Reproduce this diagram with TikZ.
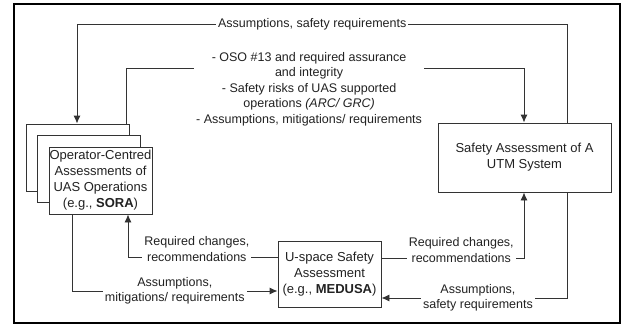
\documentclass[tikz,border=0pt]{standalone}
\usepackage{fontspec}
\setmainfont{Liberation Sans}
\usetikzlibrary{arrows.meta,positioning,calc}
\definecolor{inkgray}{HTML}{333333}
\definecolor{textgray}{HTML}{222222}
\tikzset{
  stackbox/.style={
    draw=inkgray,
    line width=0.9pt,
    fill=white,
    minimum width=103pt,
    minimum height=67pt,
    inner sep=0.5pt,
    align=center,
    text=textgray,
    font=\fontsize{13}{16}\selectfont
  },
  mainbox/.style={
    stackbox,
    minimum width=173pt,
    minimum height=69pt
  },
  linkline/.style={-{Latex[length=8pt,width=7pt]},line width=0.9pt,draw=inkgray},
  linklabel/.style={
    fill=white,
    inner sep=2pt,
    align=center,
    text=textgray,
    font=\fontsize{12.5}{15.5}\selectfont
  }
}

\begin{document}
\begin{tikzpicture}[x=1pt,y=-1pt]
\useasboundingbox (0,0) rectangle (623,325);
\draw[line width=2pt] (14,3.5) rectangle (619.5,323);

% operator-centred assessments (stacked)
\node[stackbox] (back) at (77.5,157.5) {};
\node[stackbox] (mid) at (89,169) {};
\node[stackbox] (sora) at (100.5,180.5) {Operator-Centred\\Assessments of\\UAS Operations\\(e.g., \textbf{SORA})};

\node[mainbox] (utm) at (524.5,157.5) {Safety Assessment of A\\UTM System};
\node[stackbox,minimum height=66pt] (medusa) at (329.5,274) {U-space Safety\\Assessment\\(e.g., \textbf{MEDUSA})};

% bends
\coordinate (topR) at (567,24);
\coordinate (topL) at (77,24);
\coordinate (osoL) at (126,68);
\coordinate (osoR) at (524,68);
\coordinate (asmL) at (72,291);
\coordinate (chgL) at (128,257);
\coordinate (chgR) at (524,258);
\coordinate (asmR) at (567,298);

\draw[linkline] (utm.north -| topR) -- (topR) -- node[linklabel,pos=0.52] {Assumptions, safety requirements} (topL) -- (topL |- back.north);
\draw[linkline] (back.north -| osoL) -- (osoL) -- node[linklabel,pos=0.46,yshift=-21pt] {- OSO \#13 and required assurance\\and integrity\\- Safety risks of UAS supported\\operations \textit{(ARC/ GRC)}\\- Assumptions, mitigations/ requirements} (osoR) -- (osoR |- utm.north);
\draw[linkline] (sora.south -| asmL) |- node[linklabel,pos=0.75] {Assumptions,\\mitigations/ requirements} (medusa.west |- asmL);
\draw[linkline] (medusa.west |- chgL) -| node[linklabel,pos=0.27,yshift=8pt] {Required changes,\\recommendations} (sora.south -| chgL);
\draw[linkline] (medusa.east |- chgR) -| node[linklabel,pos=0.28,yshift=8pt] {Required changes,\\recommendations} (utm.south -| chgR);
\draw[linkline] (utm.south -| asmR) |- node[linklabel,pos=0.74] {Assumptions,\\safety requirements} (medusa.east |- asmR);
\end{tikzpicture}
\end{document}
